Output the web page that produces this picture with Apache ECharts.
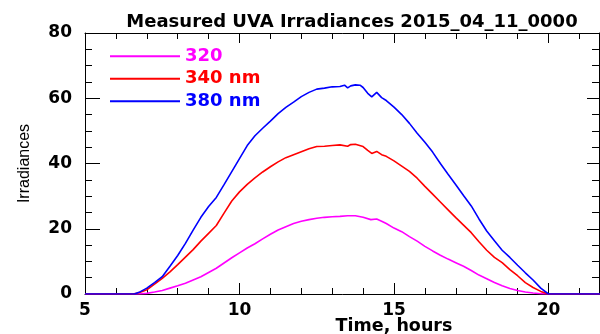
<!DOCTYPE html>
<html>
<head>
<meta charset="utf-8">
<script src="https://cdn.jsdelivr.net/npm/echarts@6/dist/echarts.min.js"></script>
<style>html,body{margin:0;padding:0;background:#fff}#c{width:600px;height:334px}</style>
</head>
<body>
<div id="c"></div>
<script>
const titleText = "Measured UVA Irradiances 2015_04_11_0000";
const xName = "Time, hours";
const yName = "Irradiances";
const seriesNames = ["320", "340 nm", "380 nm"];
const seriesColors = ["#ff00ff", "#ff0000", "#0000ff"];

const hours320 = [5, 6.75, 7, 7.25, 7.5, 7.75, 8, 8.25, 8.5, 8.75, 9, 9.25, 9.5, 9.75, 10, 10.25, 10.5, 10.75, 11, 11.25, 11.5, 11.75, 12, 12.25, 12.5, 12.75, 13, 13.25, 13.5, 13.75, 14, 14.25, 14.44, 14.6, 14.75, 15, 15.25, 15.5, 15.75, 16, 16.25, 16.5, 16.75, 17, 17.25, 17.5, 17.75, 18, 18.25, 18.5, 18.75, 19, 19.25, 19.5, 19.75, 20, 22];
const values320 = [0, 0, 0.2, 0.6, 1.1, 1.8, 2.5, 3.3, 4.3, 5.3, 6.6, 7.9, 9.5, 11.1, 12.6, 14.1, 15.4, 16.9, 18.3, 19.6, 20.6, 21.6, 22.3, 22.8, 23.2, 23.5, 23.7, 23.8, 24.0, 24.0, 23.5, 22.8, 23.0, 22.3, 21.6, 20.2, 19.1, 17.6, 16.2, 14.6, 13.2, 11.9, 10.7, 9.6, 8.5, 7.2, 5.8, 4.7, 3.5, 2.5, 1.7, 1.1, 0.6, 0.3, 0.1, 0, 0];

const hours340 = [5, 6.55, 6.75, 7, 7.25, 7.5, 7.75, 8, 8.25, 8.5, 8.75, 9, 9.25, 9.5, 9.75, 10, 10.25, 10.5, 10.75, 11, 11.25, 11.5, 11.75, 12, 12.25, 12.5, 12.75, 13, 13.25, 13.5, 13.6, 13.75, 14, 14.15, 14.28, 14.44, 14.6, 14.75, 15, 15.25, 15.5, 15.75, 16, 16.25, 16.5, 16.75, 17, 17.25, 17.5, 17.75, 18, 18.25, 18.5, 18.75, 19, 19.25, 19.5, 19.75, 20, 22];
const values340 = [0, 0, 0.4, 1.3, 3.0, 4.8, 6.8, 9.0, 11.3, 13.6, 16.2, 18.6, 21.0, 24.8, 28.5, 31.3, 33.6, 35.6, 37.4, 39.0, 40.5, 41.8, 42.7, 43.6, 44.5, 45.2, 45.3, 45.5, 45.7, 45.3, 45.8, 45.9, 45.2, 44.0, 43.1, 43.7, 42.7, 42.2, 40.8, 39.2, 37.6, 35.5, 33.0, 30.6, 28.2, 25.8, 23.4, 21.1, 18.8, 16.0, 13.4, 11.2, 9.6, 7.5, 5.6, 3.5, 2.0, 0.8, 0, 0];

const hours380 = [5, 6.6, 6.75, 7, 7.25, 7.5, 7.75, 8, 8.25, 8.5, 8.75, 9, 9.25, 9.5, 9.75, 10, 10.25, 10.5, 10.75, 11, 11.25, 11.5, 11.75, 12, 12.25, 12.5, 12.75, 13, 13.25, 13.4, 13.5, 13.6, 13.75, 13.9, 14, 14.15, 14.28, 14.44, 14.6, 14.75, 15, 15.25, 15.5, 15.75, 16, 16.25, 16.5, 16.75, 17, 17.25, 17.5, 17.75, 18, 18.25, 18.5, 18.75, 19, 19.25, 19.5, 19.75, 20, 22];
const values380 = [0, 0, 0.5, 1.8, 3.5, 5.3, 8.5, 11.8, 15.5, 19.6, 23.5, 26.8, 29.6, 33.5, 37.5, 41.5, 45.5, 48.5, 50.8, 53.0, 55.3, 57.2, 58.8, 60.5, 61.8, 62.8, 63.1, 63.5, 63.6, 64.0, 63.2, 63.8, 64.1, 64.0, 63.3, 61.5, 60.4, 61.8, 60.2, 59.3, 57.3, 55.0, 52.3, 49.3, 46.5, 43.5, 40.0, 36.7, 33.5, 30.2, 27.0, 23.0, 19.3, 16.3, 13.4, 11.2, 8.8, 6.5, 4.3, 1.8, 0, 0];

const xTickLabels = ["5", "10", "15", "20"];
const yTickLabels = ["0", "20", "40", "60", "80"];

const hoursList = [hours320, hours340, hours380];
const valuesList = [values320, values340, values380];

const FONT = "DejaVu Sans";
const chart = echarts.init(document.getElementById('c'), null, {renderer: 'canvas'});

const baseX = {
  type: 'value', min: 5, max: 25, interval: 5,
  axisLine: {show: true, onZero: false, lineStyle: {color: '#000', width: 1}},
  splitLine: {show: false},
  minorSplitLine: {show: false}
};
const baseY = {
  type: 'value', min: 0, max: 80, interval: 20,
  axisLine: {show: true, onZero: false, lineStyle: {color: '#000', width: 1}},
  splitLine: {show: false},
  minorSplitLine: {show: false}
};

const option = {
  animation: false,
  backgroundColor: '#fff',
  title: {
    text: titleText, left: 347, top: 8, textAlign: 'center',
    textStyle: {fontFamily: FONT, fontSize: 18, fontWeight: 'bold', color: '#000'}
  },
  legend: {
    left: 110, top: 45, orient: 'vertical', padding: 0, itemGap: 0,
    itemWidth: 70, itemHeight: 2, icon: 'rect',
    data: seriesNames.map((n, i) => ({name: n, textStyle: {color: seriesColors[i]}})),
    textStyle: {fontFamily: FONT, fontSize: 18, fontWeight: 'bold', lineHeight: 22.5}
  },
  grid: {left: 85, right: -103, top: 33, bottom: 40, outerBoundsMode: 'none', containLabel: false},
  xAxis: [
    Object.assign({}, baseX, {
      position: 'bottom',
      axisTick: {show: true, inside: true, length: 11, lineStyle: {color: '#000'}},
      minorTick: {show: true, splitNumber: 5, length: 6, lineStyle: {color: '#000'}},
      axisLabel: {
        show: true, margin: 8, color: '#000', fontFamily: FONT, fontSize: 17, fontWeight: 'bold',
        formatter: v => (xTickLabels.indexOf(String(v)) >= 0 ? String(v) : '')
      },
      name: xName, nameLocation: 'middle', nameGap: 23, nameMoveOverlap: false,
      nameTextStyle: {fontFamily: FONT, fontSize: 17.5, fontWeight: 'bold', color: '#000'}
    }),
    Object.assign({}, baseX, {
      position: 'top',
      axisTick: {show: true, inside: true, length: 10, lineStyle: {color: '#000'}},
      minorTick: {show: true, splitNumber: 5, length: 6, lineStyle: {color: '#000'}},
      axisLabel: {show: false}
    })
  ],
  yAxis: [
    Object.assign({}, baseY, {
      position: 'left',
      axisTick: {show: true, inside: true, length: 15, lineStyle: {color: '#000'}},
      minorTick: {show: true, splitNumber: 4, length: 7, lineStyle: {color: '#000'}},
      axisLabel: {
        show: true, margin: 13, color: '#000', fontFamily: FONT, fontSize: 17, fontWeight: 'bold',
        formatter: v => (yTickLabels.indexOf(String(v)) >= 0 ? String(v) : '')
      },
      name: yName, nameLocation: 'middle', nameGap: 52, nameRotate: 90, nameMoveOverlap: false,
      nameTextStyle: {fontFamily: 'Liberation Sans', fontSize: 16, color: '#000'}
    }),
    Object.assign({}, baseY, {
      position: 'right', offset: -104,
      axisTick: {show: true, inside: true, length: 12, lineStyle: {color: '#000'}},
      minorTick: {show: true, splitNumber: 4, length: 7, lineStyle: {color: '#000'}},
      axisLabel: {show: false}
    })
  ],
  series: seriesNames.map((n, i) => ({
    name: n, type: 'line', xAxisIndex: 0, yAxisIndex: 0,
    showSymbol: false, symbol: 'none', smooth: false,
    lineStyle: {color: seriesColors[i], width: 1.6},
    itemStyle: {color: seriesColors[i]},
    data: hoursList[i].map((h, k) => [h, valuesList[i][k]])
  }))
};
chart.setOption(option);
</script>
</body>
</html>
